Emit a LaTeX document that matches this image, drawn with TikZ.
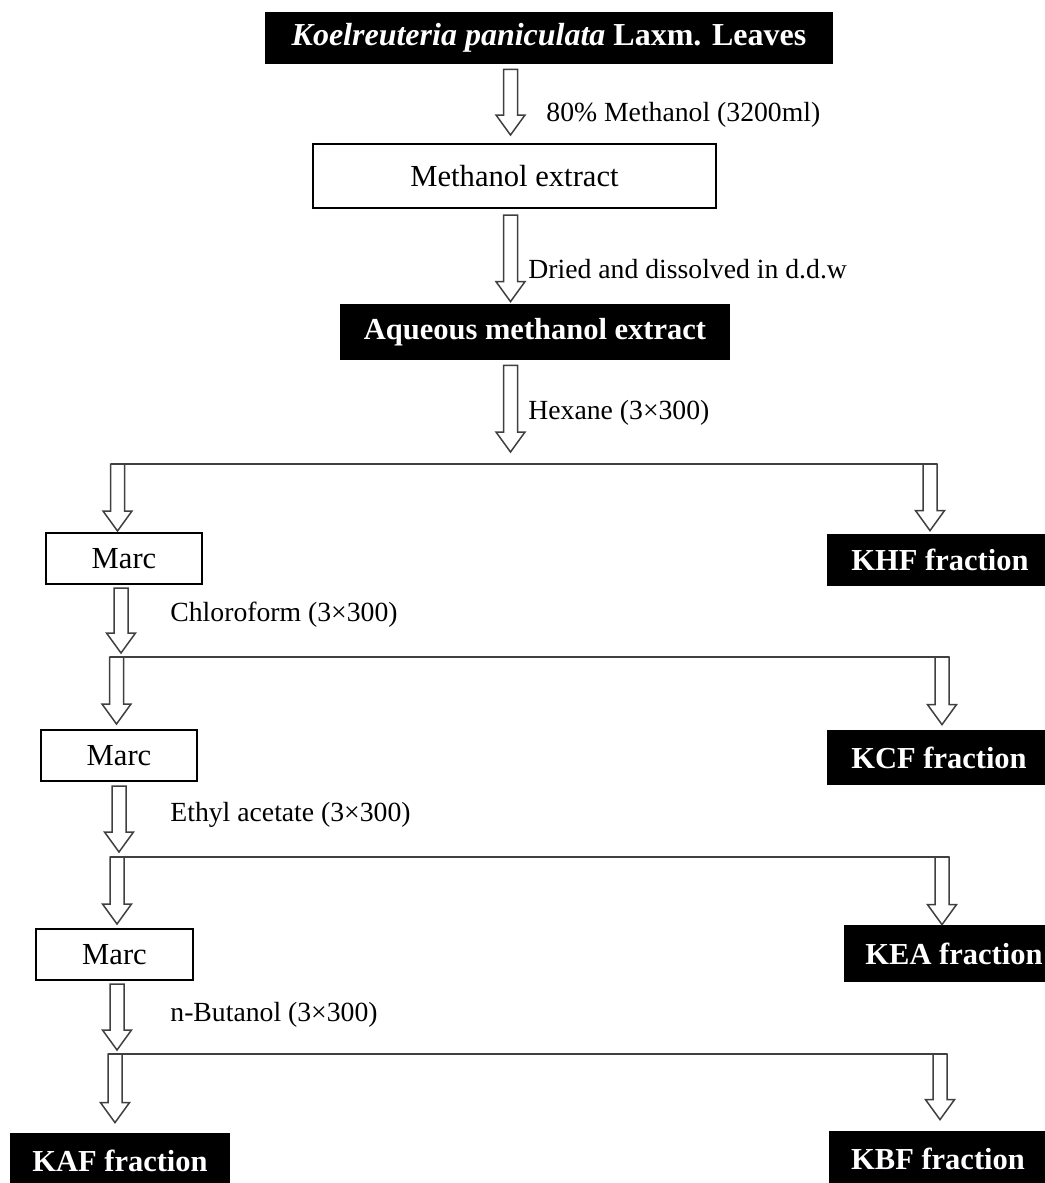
\documentclass[tikz,border=0pt]{standalone}
\usepackage{fontspec}
\setmainfont{Liberation Serif}
\usetikzlibrary{calc}
\begin{document}
\begin{tikzpicture}[x=0.5pt, y=-0.5pt,
  box/.style = {draw, line width=1pt, inner sep=0pt, font=\fontsize{15.3}{18}\selectfont},
  blk/.style = {fill=black, text=white, inner sep=0pt, font=\fontsize{15.25}{18}\selectfont\bfseries},
  lbl/.style = {anchor=west, inner sep=0pt, font=\fontsize{13.85}{16}\selectfont},
  link/.style = {draw=black!75, line width=1pt},
  hollow/.style = {draw=black!75, line width=0.75pt, fill=white, to path={let \p1=(\tikztostart), \p2=(\tikztotarget) in (\x1-3.5pt,\y1) -- (\x1-3.5pt,\y2+10pt) -- (\x1-7.25pt,\y2+10pt) -- (\x1,\y2) -- (\x1+7.25pt,\y2+10pt) -- (\x1+3.5pt,\y2+10pt) -- (\x1+3.5pt,\y1) -- cycle}}]
\useasboundingbox (0,0) rectangle (1044,1183);
\fill[white] (0,0) rectangle (1044,1183);
\coordinate (c0) at (510.5,0);
\node[blk, minimum width=284pt, minimum height=26pt, font=\fontsize{16}{19}\selectfont\bfseries] (top) at (549,38) {\textit{Koelreuteria paniculata} Laxm. Leaves};
\node[box, minimum width=201.5pt, minimum height=32pt] (meth) at (514.5,176) {Methanol extract};
\node[blk, minimum width=195pt, minimum height=28pt] (aq) at (535,332) {Aqueous methanol extract};
\node[box, minimum width=78pt, minimum height=25.5pt] (marc1) at (124,558.5) {Marc};
\node[blk, minimum width=113pt, minimum height=26pt] (khf) at (940,560) {KHF fraction};
\node[box, minimum width=78pt, minimum height=25.5pt] (marc2) at (119,755.5) {Marc};
\node[blk, minimum width=112pt, minimum height=27.5pt] (kcf) at (939,757.5) {KCF fraction};
\node[box, minimum width=78.5pt, minimum height=25.5pt] (marc3) at (114.5,954.5) {Marc};
\node[blk, minimum width=110pt, minimum height=28.5pt] (kea) at (954,953.5) {KEA fraction};
\node[blk, minimum width=110pt, minimum height=28pt] (kaf) at (120,1161) {KAF fraction};
\node[blk, minimum width=109pt, minimum height=28pt] (kbf) at (938,1159) {KBF fraction};
\node[lbl] (l1) at (546,115) {80\% Methanol (3200ml)};
\node[lbl] (l2) at (528,269) {Dried and dissolved in d.d.w};
\node[lbl] (l3) at (528,413) {Hexane (3×300)};
\node[lbl] (l4) at (170,615) {Chloroform (3×300)};
\node[lbl] (l5) at (170,815) {Ethyl acetate (3×300)};
\node[lbl] (l6) at (170,1015) {n-Butanol (3×300)};
\coordinate (br1l) at (117.5,464);
\coordinate (br1r) at (930,464);
\coordinate (br2l) at (116.5,657);
\coordinate (br2r) at (942,657);
\coordinate (br3l) at (117,857);
\coordinate (br3r) at (942,857);
\coordinate (br4l) at (115,1054);
\coordinate (br4r) at (940,1054);
\draw[link] ($(br1l)+(-7,0)$) -- ($(br1r)+(7,0)$);
\draw[link] ($(br2l)+(-7,0)$) -- ($(br2r)+(7,0)$);
\draw[link] ($(br3l)+(-7,0)$) -- ($(br3r)+(7,0)$);
\draw[link] ($(br4l)+(-7,0)$) -- ($(br4r)+(7,0)$);
\draw[hollow] ($(top.south -| c0)+(0,5)$) to ($(meth.north -| c0)+(0,-8)$);
\draw[hollow] ($(meth.south -| c0)+(0,6)$) to ($(aq.north -| c0)+(0,-2)$);
\draw[hollow] ($(aq.south -| c0)+(0,5)$) to ($(br1l -| c0)+(0,-12)$);
\draw[hollow] (br1l) to ($(marc1.north -| br1l)+(0,-1)$);
\draw[hollow] (br1r) to ($(khf.north -| br1r)+(0,-3)$);
\draw[hollow] ($(marc1.south)+(-3,3)$) to ($(br2l)+(0,-4)$);
\draw[hollow] (br2l) to ($(marc2.north -| br2l)+(0,-5)$);
\draw[hollow] (br2r) to ($(kcf.north -| br2r)+(0,-5)$);
\draw[hollow] ($(marc2.south)+(0,4)$) to ($(br3l)+(0,-5)$);
\draw[hollow] (br3l) to ($(marc3.north -| br3l)+(0,-4)$);
\draw[hollow] (br3r) to (kea.north -| br3r);
\draw[hollow] ($(marc3.south)+(2.5,3)$) to ($(br4l)+(0,-4)$);
\draw[hollow] (br4l) to ($(kaf.north -| br4l)+(0,-10)$);
\draw[hollow] (br4r) to ($(kbf.north -| br4r)+(0,-11)$);
\end{tikzpicture}
\end{document}
